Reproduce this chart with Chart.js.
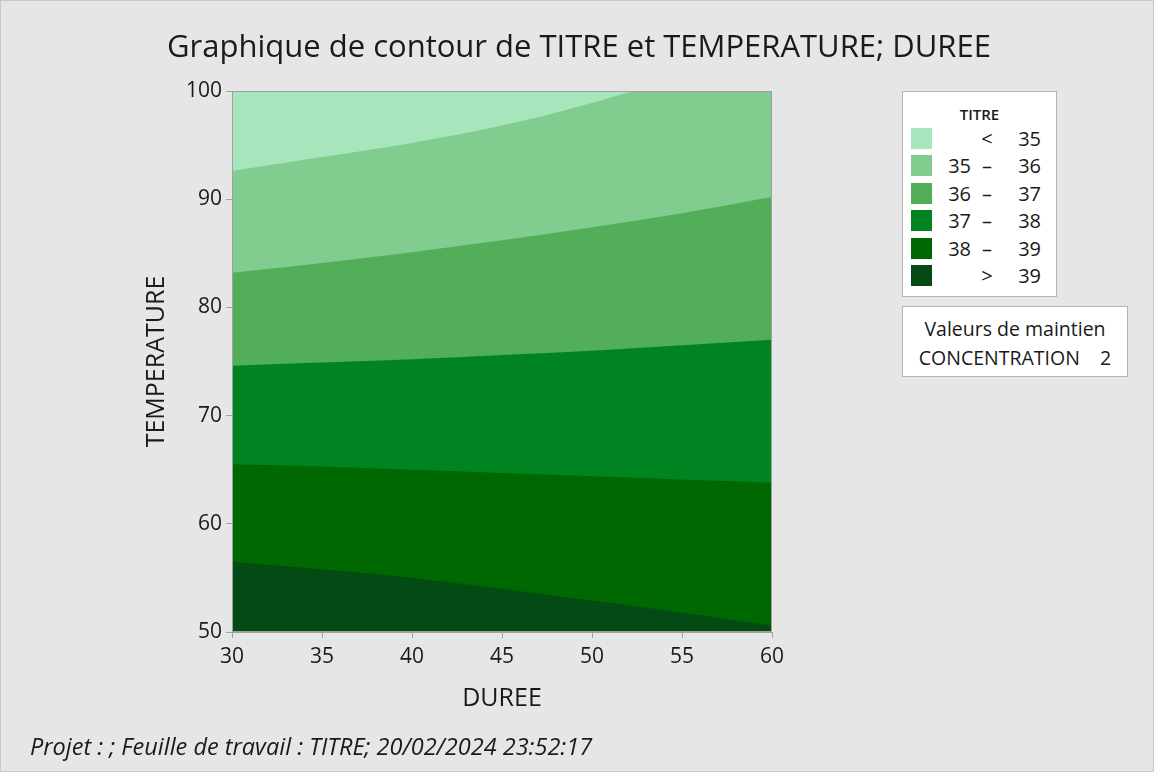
<!DOCTYPE html>
<html><head><meta charset="utf-8">
<script src="https://cdn.jsdelivr.net/npm/chart.js@4.4.1/dist/chart.umd.min.js"></script>
<style>
html,body{margin:0;padding:0;background:#e6e6e6;}
#wrap{position:relative;width:1154px;height:772px;overflow:hidden;font-family:"Open Sans",sans-serif;color:#1a1a1a;background:#e6e6e6;}
#frame{position:absolute;left:0;top:0;width:1152px;height:770px;border:1px solid #c8c8c8;pointer-events:none;}
canvas{position:absolute;left:0;top:0;}
#title{position:absolute;left:0;width:1158px;top:24px;text-align:center;font-size:31px;line-height:42px;white-space:nowrap;}
#legend{position:absolute;left:902px;top:91px;width:153px;height:204px;background:#fff;border:1px solid #b4b4b4;}
#legend .lt{position:absolute;left:0;width:153px;top:12px;text-align:center;font-size:15px;line-height:20px;font-weight:600;}
.row{position:absolute;left:0;height:22px;width:153px;font-size:20px;line-height:22px;}
.sw{position:absolute;left:8px;top:0;width:21px;height:21px;}
.lo{position:absolute;right:85px;text-align:right;}
.mid{position:absolute;left:76px;width:16px;text-align:center;}
.hi{position:absolute;right:15px;text-align:right;}
#hold{position:absolute;left:902px;top:306px;width:224px;height:69px;background:#fff;border:1px solid #b4b4b4;font-size:19.5px;text-align:center;}
#hold div{position:absolute;left:0;width:224px;line-height:24px;white-space:pre;}
#foot{position:absolute;left:30px;top:731px;font-size:23.5px;font-style:italic;line-height:30px;white-space:nowrap;}
</style></head>
<body><div id="wrap">
<canvas id="c" width="1154" height="772"></canvas>
<div id="title">Graphique de contour de TITRE et TEMPERATURE; DUREE</div>
<div id="legend"><div class="lt">TITRE</div></div>
<div id="hold"><div id="h1" style="top:10px"></div><div id="h2" style="top:39px"></div></div>
<div id="foot">Projet : ; Feuille de travail : TITRE; 20/02/2024 23:52:17</div>
<div id="frame"></div>
</div>
<script>
// ---- data ----
const dureeGrid = [30, 35, 40, 45, 50, 55, 60];
const titre35Temp = [92.6, 93.9, 95.2, 96.8, 98.9, 101.4, 104.3];
const titre36Temp = [83.2, 84.1, 85.1, 86.2, 87.4, 88.7, 90.2];
const titre37Temp = [74.6, 74.9, 75.2, 75.6, 76.0, 76.5, 77.0];
const titre38Temp = [65.5, 65.3, 65.0, 64.7, 64.4, 64.1, 63.8];
const titre39Temp = [56.5, 55.8, 55.0, 54.0, 52.9, 51.8, 50.6];
const topDuree = [30, 60];
const topTemp = [100, 100];
const xTickValues = [30, 35, 40, 45, 50, 55, 60];
const yTickValues = [50, 60, 70, 80, 90, 100];
const titreBreaks = [35, 36, 37, 38, 39];
const holdName = "CONCENTRATION";
const holdValue = 2;
// band colours, light (< 35) to dark (> 39)
const bandColors = ['#a7e5bd', '#80cd8f', '#52ae58', '#008421', '#006800', '#034a15'];

// ---- boxes (HTML text) ----
document.getElementById('h1').textContent = 'Valeurs de maintien';
document.getElementById('h2').textContent = holdName + '    ' + holdValue;
const leg = document.getElementById('legend');
const rowsDef = [];
rowsDef.push(['', '<', titreBreaks[0]]);
for (let i = 0; i < titreBreaks.length - 1; i++) rowsDef.push([titreBreaks[i], '\u2013', titreBreaks[i + 1]]);
rowsDef.push(['', '>', titreBreaks[titreBreaks.length - 1]]);
rowsDef.forEach((r, i) => {
  const d = document.createElement('div');
  d.className = 'row';
  d.style.top = (36 + i * 27.4) + 'px';
  d.innerHTML = '<div class="sw" style="background:' + bandColors[i] + '"></div>' +
    '<span class="lo">' + r[0] + '</span><span class="mid">' + r[1] + '</span><span class="hi">' + r[2] + '</span>';
  leg.appendChild(d);
});

// ---- chart ----
const pts = (xs, ys) => xs.map((x, i) => ({x: x, y: ys[i]}));
function band(data, color) {
  return {data: data, fill: 'start', backgroundColor: color, borderColor: 'rgba(0,0,0,0)',
    borderWidth: 0, pointRadius: 0, cubicInterpolationMode: 'monotone'};
}
// index 0 is drawn last (on top)
const datasets = [
  band(pts(dureeGrid, titre39Temp), bandColors[5]),
  band(pts(dureeGrid, titre38Temp), bandColors[4]),
  band(pts(dureeGrid, titre37Temp), bandColors[3]),
  band(pts(dureeGrid, titre36Temp), bandColors[2]),
  band(pts(dureeGrid, titre35Temp), bandColors[1]),
  band(pts(topDuree, topTemp), bandColors[0])
];

const framePlugin = {
  id: 'frame',
  afterDatasetsDraw(chart) {
    const a = chart.chartArea, ctx = chart.ctx;
    ctx.save();
    ctx.strokeStyle = '#a0a0a0';
    ctx.lineWidth = 1;
    ctx.strokeRect(a.left + 0.5, a.top + 0.5, a.right - a.left - 1, a.bottom - a.top - 1);
    ctx.restore();
  }
};

const tickFont = {family: '"Open Sans", sans-serif', size: 21};
const titleFont = {family: '"Open Sans", sans-serif', size: 25};
const PADL = 142, PADB = 58;

new Chart(document.getElementById('c'), {
  type: 'line',
  data: {datasets: datasets},
  options: {
    responsive: false,
    animation: false,
    events: [],
    layout: {padding: {left: PADL, right: 382, top: 91, bottom: PADB}},
    plugins: {legend: {display: false}, tooltip: {enabled: false}, title: {display: false}},
    scales: {
      x: {
        type: 'linear', min: 30, max: 60,
        afterBuildTicks: s => { s.ticks = xTickValues.map(v => ({value: v})); },
        afterFit: s => { s.height = 772 - PADB - 632; },
        grid: {display: true, drawOnChartArea: false, drawTicks: true, tickLength: 6, color: '#a0a0a0'},
        border: {display: true, color: '#a0a0a0'},
        ticks: {font: tickFont, color: '#1a1a1a', padding: 6, maxRotation: 0},
        title: {display: true, text: 'DUREE', font: titleFont, color: '#1a1a1a', padding: {top: 0, bottom: 0}}
      },
      y: {
        type: 'linear', min: 50, max: 100,
        afterBuildTicks: s => { s.ticks = yTickValues.map(v => ({value: v})); },
        afterFit: s => { s.width = 232 - PADL; },
        grid: {display: true, drawOnChartArea: false, drawTicks: true, tickLength: 6, color: '#a0a0a0'},
        border: {display: true, color: '#a0a0a0'},
        ticks: {font: tickFont, color: '#1a1a1a', padding: 4},
        title: {display: true, text: 'TEMPERATURE', font: titleFont, color: '#1a1a1a', padding: {top: 0, bottom: 0}}
      }
    }
  },
  plugins: [framePlugin]
});
</script>
</body></html>
